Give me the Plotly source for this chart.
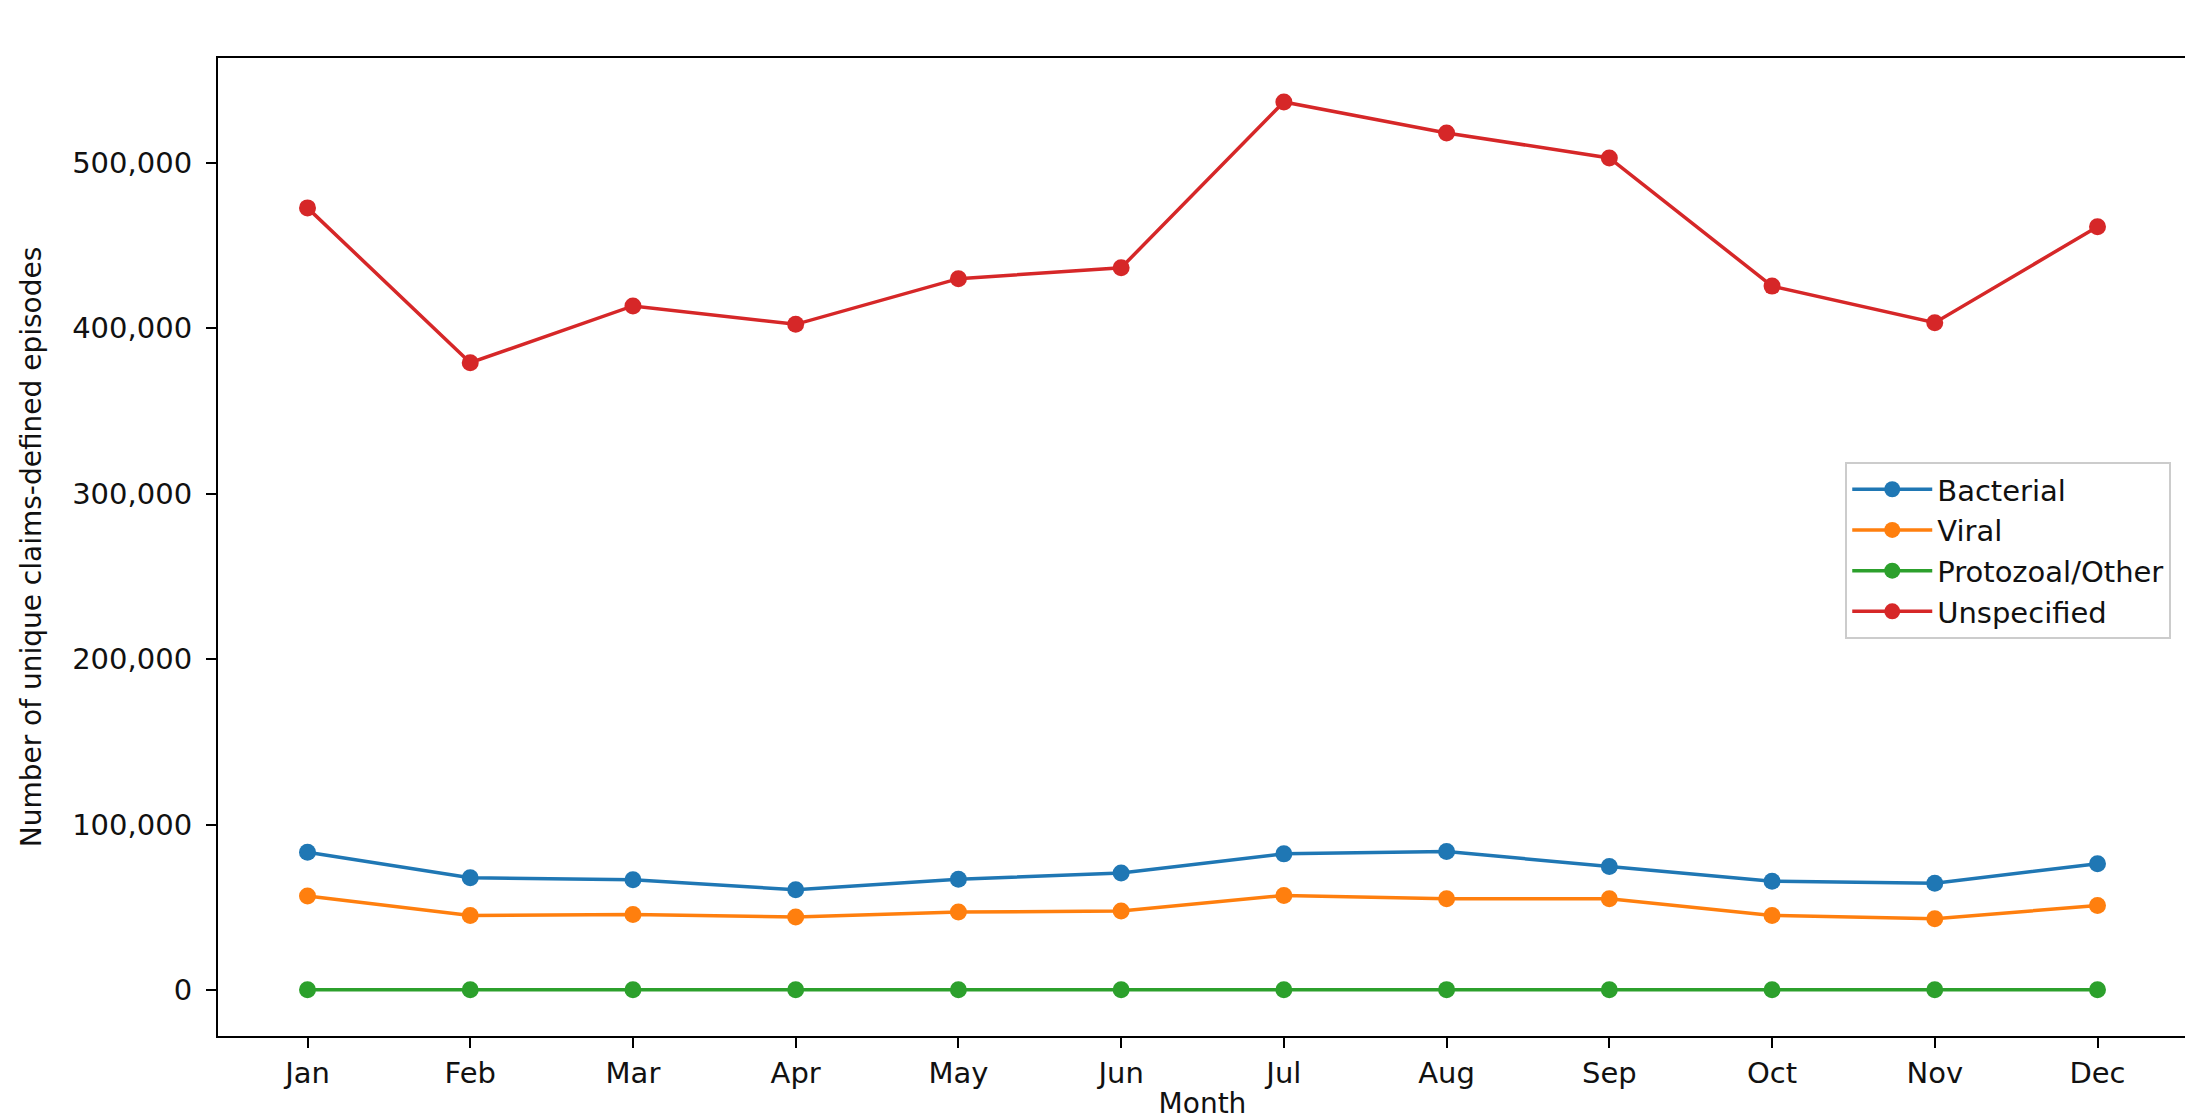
import plotly.graph_objects as go

months = ["Jan", "Feb", "Mar", "Apr", "May", "Jun",
          "Jul", "Aug", "Sep", "Oct", "Nov", "Dec"]

bacterial = [83300, 67800, 66600, 60600, 67000, 70700,
             82300, 83700, 74700, 65800, 64600, 76300]
viral = [56800, 45100, 45700, 44100, 47100, 47700,
         57200, 55100, 55100, 45100, 43100, 51100]
protozoal = [200, 180, 190, 170, 200, 210,
             220, 230, 200, 190, 180, 200]
unspecified = [472800, 379200, 413500, 402400, 430000, 436600,
               536800, 518100, 503000, 425500, 403400, 461400]

series = [
    ("Bacterial", bacterial, "#1f77b4"),
    ("Viral", viral, "#ff7f0e"),
    ("Protozoal/Other", protozoal, "#2ca02c"),
    ("Unspecified", unspecified, "#d62728"),
]

fig = go.Figure()
for name, vals, color in series:
    fig.add_trace(go.Scatter(
        x=list(range(len(months))), y=vals, name=name,
        mode="lines+markers",
        line=dict(color=color, width=3.5),
        marker=dict(color=color, size=17),
    ))

axis_common = dict(
    showline=True, linecolor="black", linewidth=2.2, mirror=True,
    ticks="outside", ticklen=10, tickwidth=2.2, tickcolor="black",
    showgrid=False, zeroline=False,
    tickfont=dict(size=29, color="#111111"),
)

fig.update_xaxes(
    tickvals=list(range(len(months))), ticktext=months,
    range=[-0.55, 11.55],
    title=dict(text="Month", font=dict(size=28, color="#111111"), standoff=4),
    **axis_common,
)
fig.update_yaxes(
    range=[-27800, 563400], dtick=100000, tickformat=",d",
    ticklabelstandoff=8,
    title=dict(text="Number of unique claims-defined episodes",
               font=dict(size=28, color="#111111"), standoff=22),
    **axis_common,
)

fig.update_layout(
    width=2193, height=1117,
    margin=dict(l=210, r=14, t=50, b=89),
    paper_bgcolor="white", plot_bgcolor="white",
    font=dict(family="DejaVu Sans", color="#111111"),
    legend=dict(
        x=0.992, y=0.587, xanchor="right", yanchor="top",
        bgcolor="rgba(255,255,255,0.8)", bordercolor="#cccccc", borderwidth=2,
        font=dict(size=29, color="#111111"), itemwidth=80,
    ),
    showlegend=True,
)

fig.write_html("out.html")
